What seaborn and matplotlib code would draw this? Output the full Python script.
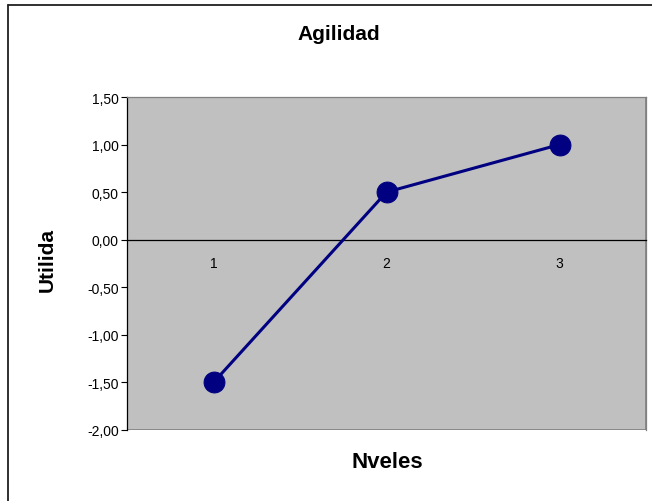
"""
Agilidad: utilidad por nivel (Excel-style line chart).
"""

import matplotlib.pyplot as plt
import pandas as pd
import seaborn as sns
from matplotlib.patches import Rectangle

# chart data
levels = [1, 2, 3]
utilities = [-1.50, 0.50, 1.00]
y_ticks = [-2.0, -1.5, -1.0, -0.5, 0.0, 0.5, 1.0, 1.5]
y_tick_labels = ["-2,00", "-1,50", "-1,00", "-0,50", "0,00", "0,50", "1,00", "1,50"]
level_labels = ["1", "2", "3"]


def main():
    sns.set_style("white", {"text.color": "black", "xtick.color": "black",
                            "ytick.color": "black"})
    plt.rcParams["font.family"] = ["Liberation Sans", "DejaVu Sans"]

    df = pd.DataFrame({"Nivel": levels, "Utilidad": utilities})

    fig = plt.figure(figsize=(6.52, 5.02), dpi=100)
    ax = fig.add_axes([127 / 652, 71 / 502, 519 / 652, 333 / 502])
    ax.set_facecolor("#C0C0C0")

    sns.lineplot(
        data=df,
        x="Nivel",
        y="Utilidad",
        color="#000080",
        linewidth=2.2,
        marker="o",
        markersize=15,
        markeredgecolor="#000080",
        ax=ax,
        zorder=5,
    )

    ax.set_xlim(0.5, 3.5)
    ax.set_ylim(-2.0, 1.5)
    ax.set_xlabel("")
    ax.set_ylabel("")

    # category axis crosses at zero
    ax.spines["bottom"].set_position(("data", 0))
    ax.spines["bottom"].set_color("black")
    ax.spines["bottom"].set_linewidth(0.9)
    ax.spines["left"].set_color("black")
    ax.spines["left"].set_linewidth(0.9)
    for side in ["top", "right"]:
        ax.spines[side].set_color("#808080")
        ax.spines[side].set_linewidth(0.9)
    ax.add_patch(Rectangle((0, 0), 1, 1, transform=ax.transAxes, fill=False,
                           edgecolor="#808080", linewidth=1.2, zorder=1))

    ax.set_xticks(levels)
    ax.set_xticklabels(level_labels, fontsize=10, color="black")
    ax.set_xticks([1.5, 2.5], minor=True)
    ax.tick_params(axis="x", which="major", length=0, pad=12)
    ax.tick_params(axis="x", which="minor", length=3, direction="out",
                   color="black", width=0.8)

    ax.set_yticks(y_ticks)
    ax.set_yticklabels(y_tick_labels, fontsize=10, color="black")
    ax.tick_params(axis="y", length=4, direction="out", color="black",
                   width=0.8, left=True, pad=2)

    fig.text(339 / 652, 1 - 35 / 502, "Agilidad", ha="center", va="center",
             fontsize=15, fontweight="bold", color="black")
    fig.text(47 / 652, 1 - 260 / 502, "Utilida", ha="center", va="center",
             rotation=90, fontsize=15, fontweight="bold", color="black")
    fig.text(387 / 652, 1 - 463 / 502, "Nveles", ha="center", va="center",
             fontsize=16, fontweight="bold", color="black")

    # outer chart border (top and left only visible)
    fig.add_artist(plt.Line2D([8 / 652, 1], [1 - 5.5 / 502] * 2,
                              transform=fig.transFigure, color="#202020",
                              linewidth=1.3))
    fig.add_artist(plt.Line2D([8 / 652] * 2, [0, 1 - 5.5 / 502],
                              transform=fig.transFigure, color="#202020",
                              linewidth=1.3))

    plt.savefig("out.png", dpi=100)
    plt.close()


if __name__ == "__main__":
    main()
